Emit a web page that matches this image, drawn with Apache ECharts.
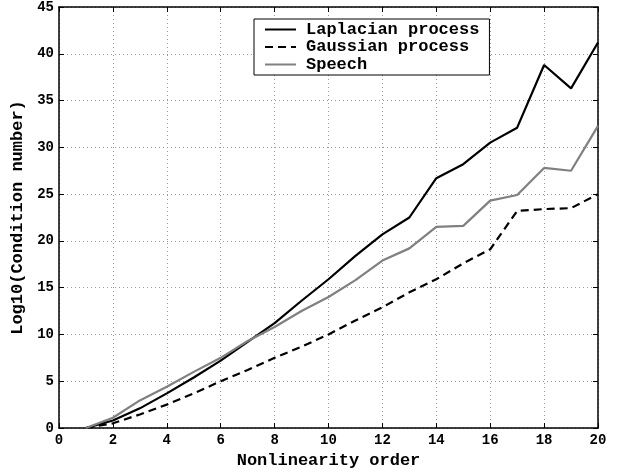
<!DOCTYPE html>
<html>
<head>
<meta charset="utf-8">
<script src="https://cdn.jsdelivr.net/npm/echarts@6/dist/echarts.min.js"></script>
<style>
html,body{margin:0;padding:0;background:#fff;}
#c{width:619px;height:474px;}
</style>
</head>
<body>
<div id="c"></div>
<script>
var orders = [1,2,3,4,5,6,7,8,9,10,11,12,13,14,15,16,17,18,19,20];
var laplacian = [0, 0.8, 2.1, 3.7, 5.4, 7.2, 9.2, 11.2, 13.6, 15.9, 18.4, 20.7, 22.5, 26.7, 28.2, 30.5, 32.1, 38.8, 36.3, 41.2];
var gaussian = [0, 0.5, 1.45, 2.5, 3.7, 5.0, 6.2, 7.5, 8.7, 10.0, 11.5, 12.9, 14.5, 15.9, 17.6, 19.1, 23.2, 23.4, 23.5, 25.0];
var speech = [0, 1.1, 2.95, 4.4, 6.0, 7.5, 9.3, 10.8, 12.5, 14.0, 15.8, 17.9, 19.2, 21.5, 21.6, 24.3, 24.9, 27.8, 27.5, 32.3];
var seriesNames = ['Laplacian process', 'Gaussian process', 'Speech'];
var xTitle = 'Nonlinearity order';
var yTitle = 'Log10(Condition number)';

function pairs(vals){ return orders.map(function(o,i){ return [o, vals[i]]; }); }

var FONT = '"Liberation Mono", "DejaVu Sans Mono", monospace';
var chart = echarts.init(document.getElementById('c'));
var tickCommon = {show:true, inside:true, length:5, lineStyle:{color:'#000', width:1}};
var lineCommon = {show:true, onZero:false, lineStyle:{color:'#000', width:1.5}};
chart.setOption({
  animation:false,
  backgroundColor:'#fff',
  grid:{left:59, right:21, top:7, bottom:42, containLabel:false},
  legend:{
    orient:'vertical', left:254, top:19,
    data:seriesNames,
    itemWidth:31, itemHeight:14, itemGap:0.5,
    padding:[2,10,2,10],
    borderColor:'#000', borderWidth:1, backgroundColor:'#fff',
    itemStyle:{opacity:0},
    textStyle:{fontFamily:FONT, fontWeight:'bold', fontSize:17, lineHeight:16, color:'#000', padding:[0,0,0,5]}
  },
  xAxis:[{
    type:'value', min:0, max:20, interval:2,
    name:xTitle, nameLocation:'middle', nameGap:24,
    nameTextStyle:{fontFamily:FONT, fontWeight:'bold', fontSize:17, color:'#000'},
    axisLine:lineCommon, axisTick:tickCommon,
    axisLabel:{fontFamily:FONT, fontWeight:'bold', fontSize:14, color:'#000', margin:5},
    splitLine:{show:true, lineStyle:{color:'#999', type:[1,3], width:1}}
  },{
    type:'value', min:0, max:20, interval:2, position:'top',
    axisLine:lineCommon, axisTick:tickCommon, axisLabel:{show:false}, splitLine:{show:false}
  }],
  yAxis:[{
    type:'value', min:0, max:45, interval:5,
    name:yTitle, nameLocation:'middle', nameGap:23,
    nameTextStyle:{fontFamily:FONT, fontWeight:'bold', fontSize:17, color:'#000'},
    axisLine:lineCommon, axisTick:tickCommon,
    axisLabel:{fontFamily:FONT, fontWeight:'bold', fontSize:14, color:'#000', margin:5},
    splitLine:{show:true, lineStyle:{color:'#999', type:[1,3], width:1}}
  },{
    type:'value', min:0, max:45, interval:5, position:'right',
    axisLine:lineCommon, axisTick:tickCommon, axisLabel:{show:false}, splitLine:{show:false}
  }],
  series:[
    {name:seriesNames[0], type:'line', data:pairs(laplacian), symbol:'none', color:'#000',
     lineStyle:{color:'#000', width:2.2}},
    {name:seriesNames[1], type:'line', data:pairs(gaussian), symbol:'none', color:'#000',
     lineStyle:{color:'#000', width:2.2, type:[8,5]}},
    {name:seriesNames[2], type:'line', data:pairs(speech), symbol:'none', color:'#808080',
     lineStyle:{color:'#808080', width:2.2}}
  ]
});
</script>
</body>
</html>
